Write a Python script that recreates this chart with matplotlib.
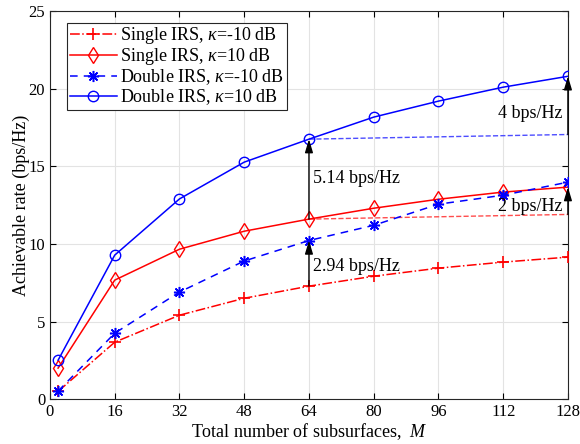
import matplotlib
matplotlib.use("Agg")
import matplotlib.pyplot as plt

plt.rcParams['font.family'] = ['Liberation Serif', 'DejaVu Serif']
plt.rcParams['mathtext.fontset'] = 'custom'
plt.rcParams['mathtext.it'] = 'Liberation Serif:italic'
plt.rcParams['mathtext.rm'] = 'Liberation Serif'

M = [2, 16, 32, 48, 64, 80, 96, 112, 128]
single_m10 = [0.5, 3.67, 5.41, 6.5, 7.28, 7.92, 8.44, 8.83, 9.15]
single_p10 = [2.0, 7.67, 9.66, 10.82, 11.6, 12.3, 12.88, 13.34, 13.66]
double_m10 = [0.52, 4.25, 6.9, 8.9, 10.22, 11.2, 12.56, 13.14, 13.98]
double_p10 = [2.51, 9.28, 12.9, 15.27, 16.75, 18.17, 19.2, 20.1, 20.8]

ref_x = [64, 128]
ref_blue = [16.75, 17.05]
ref_red = [11.6, 11.9]

labels = ['Single IRS, $\\kappa$=-10 dB', 'Single IRS, $\\kappa$=10 dB',
          'Double IRS, $\\kappa$=-10 dB', 'Double IRS, $\\kappa$=10 dB']
xticks = [0, 16, 32, 48, 64, 80, 96, 112, 128]
yticks = [0, 5, 10, 15, 20, 25]

# arrows: (x, y_from, y_to, label, text_x, text_y, ha)
arrows = [
    (64, 11.6, 16.75, '5.14 bps/Hz', 65.0, 14.2, 'left'),
    (64, 7.28, 10.22, '2.94 bps/Hz', 65.0, 8.57, 'left'),
    (128, 17.05, 20.8, '4 bps/Hz', 126.7, 18.4, 'right'),
    (128, 11.9, 13.66, '2 bps/Hz', 126.7, 12.4, 'right'),
]

fig = plt.figure(figsize=(5.8, 4.44), dpi=100)
ax = fig.add_axes([0.0862, 0.101, 0.893, 0.874])

ax.grid(True, color='#e3e3e3', linewidth=0.8, zorder=0)
ax.set_axisbelow(True)

ax.plot(ref_x, ref_blue, linestyle='--', color='#4d4dff', linewidth=1.0, zorder=2)
ax.plot(ref_x, ref_red, linestyle='--', color='#ff4d4d', linewidth=1.0, zorder=2)

ax.plot(M, single_m10, color='red', linestyle='-.', marker='+', markersize=8,
        markeredgewidth=1.2, linewidth=1.1, label=labels[0], zorder=3)
ax.plot(M, single_p10, color='red', linestyle='-', marker='d', markersize=8.5,
        markerfacecolor='none', markeredgewidth=1.0, linewidth=1.1, label=labels[1], zorder=3)
ax.plot(M, double_m10, color='blue', linestyle='--', dashes=(5, 4), marker=(8, 2, 0),
        markersize=8, markeredgewidth=1.1, linewidth=1.1, label=labels[2], zorder=3)
ax.plot(M, double_p10, color='blue', linestyle='-', marker='o', markersize=7.5,
        markerfacecolor='none', markeredgewidth=1.0, linewidth=1.1, label=labels[3], zorder=3)

for x, y0, y1, txt, tx, ty, ha in arrows:
    ax.annotate('', xy=(x, y1), xytext=(x, y0),
                arrowprops=dict(arrowstyle='-|>,head_length=1.0,head_width=0.3',
                                mutation_scale=8, color='black', lw=1.0,
                                shrinkA=0, shrinkB=0),
                zorder=4)
    ax.text(tx, ty, txt, ha=ha, va='center', fontsize=13, zorder=5)

ax.set_xlim(0, 128)
ax.set_ylim(0, 25)
ax.set_xticks(xticks)
ax.set_yticks(yticks)
ax.tick_params(direction='in', top=True, right=True, labelsize=12, length=4, width=0.8)
for s in ax.spines.values():
    s.set_linewidth(0.8)
    s.set_color('#262626')

ax.set_xlabel('Total number of subsurfaces,  $\\it{M}$', fontsize=13, labelpad=1)
ax.set_ylabel('Achievable rate (bps/Hz)', fontsize=13, labelpad=-1)

leg = ax.legend(loc='upper left', bbox_to_anchor=(0.033, 0.97), fontsize=13,
                frameon=True, fancybox=False, edgecolor='#262626', framealpha=1,
                handlelength=2.6, handletextpad=0.2, borderpad=0.15, labelspacing=0.0,
                borderaxespad=0)
leg.get_frame().set_linewidth(0.8)

fig.savefig('out.png', dpi=100)
